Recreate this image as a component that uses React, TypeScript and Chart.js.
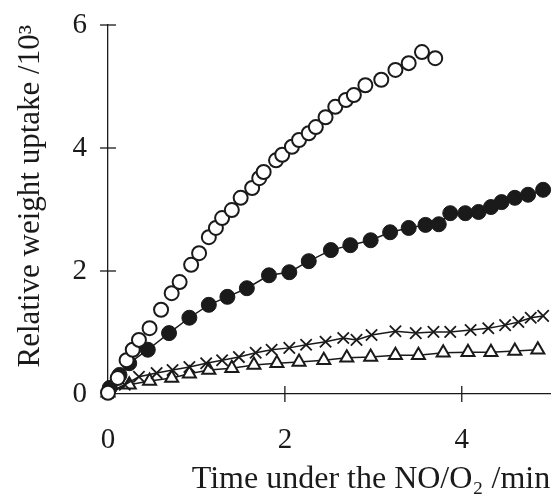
import { useEffect, useRef } from "react";
import { Chart, registerables } from "chart.js";

Chart.register(...registerables);

const xTicks = [0, 2, 4];
const yTicks = [0, 2, 4, 6];

const openX = [0.0, 0.11, 0.21, 0.28, 0.35, 0.47, 0.6, 0.72, 0.81, 0.94, 1.03, 1.14, 1.22, 1.29, 1.4, 1.5, 1.63, 1.71, 1.76, 1.9, 1.97, 2.08, 2.16, 2.27, 2.35, 2.46, 2.57, 2.69, 2.78, 2.91, 3.09, 3.25, 3.4, 3.55, 3.7];
const openY = [0.02, 0.26, 0.55, 0.72, 0.88, 1.07, 1.37, 1.64, 1.82, 2.1, 2.29, 2.55, 2.7, 2.86, 2.99, 3.19, 3.35, 3.51, 3.61, 3.8, 3.89, 4.02, 4.13, 4.24, 4.34, 4.5, 4.67, 4.78, 4.86, 5.02, 5.11, 5.27, 5.38, 5.56, 5.46];

const filledX = [0.02, 0.13, 0.24, 0.45, 0.69, 0.92, 1.14, 1.35, 1.57, 1.82, 2.05, 2.27, 2.52, 2.74, 2.97, 3.19, 3.4, 3.59, 3.74, 3.87, 4.04, 4.19, 4.33, 4.45, 4.6, 4.75, 4.92];
const filledY = [0.1, 0.31, 0.5, 0.72, 0.99, 1.24, 1.45, 1.58, 1.72, 1.93, 1.98, 2.16, 2.34, 2.42, 2.5, 2.63, 2.7, 2.75, 2.76, 2.94, 2.94, 2.96, 3.04, 3.12, 3.19, 3.24, 3.32];

const crossX = [0.0, 0.19, 0.35, 0.55, 0.73, 0.92, 1.11, 1.29, 1.48, 1.67, 1.85, 2.05, 2.24, 2.46, 2.66, 2.81, 2.98, 3.25, 3.48, 3.68, 3.87, 4.1, 4.3, 4.49, 4.64, 4.78, 4.92];
const crossY = [0.02, 0.15, 0.28, 0.34, 0.39, 0.44, 0.5, 0.55, 0.6, 0.67, 0.72, 0.75, 0.8, 0.85, 0.91, 0.88, 0.96, 1.02, 0.99, 1.01, 1.01, 1.04, 1.07, 1.12, 1.17, 1.24, 1.27];

const triX = [0.0, 0.24, 0.47, 0.72, 0.92, 1.14, 1.4, 1.65, 1.91, 2.16, 2.44, 2.7, 2.97, 3.25, 3.51, 3.79, 4.07, 4.33, 4.6, 4.86];
const triY = [0.02, 0.15, 0.21, 0.26, 0.33, 0.39, 0.42, 0.47, 0.5, 0.52, 0.55, 0.59, 0.6, 0.63, 0.63, 0.67, 0.68, 0.68, 0.7, 0.72];

const xTitle = "Time under the NO/O\u2082 /min";
const yTitle = "Relative weight uptake /10\u00B3";

const FAMILY = '"Liberation Serif", "Times New Roman", serif';
const INK = "#1a1a1a";

function pts(xs: number[], ys: number[]) {
  return xs.map((x, i) => ({ x, y: ys[i] }));
}

export default function App() {
  const ref = useRef<HTMLCanvasElement>(null);

  useEffect(() => {
    if (!ref.current) return;
    const crossTicks = {
      id: "crossTicks",
      afterDraw(chart: any) {
        const { ctx } = chart;
        const xs = chart.scales.x;
        const ys = chart.scales.y;
        const x0 = xs.getPixelForValue(0);
        const y0 = ys.getPixelForValue(0);
        ctx.save();
        ctx.strokeStyle = INK;
        ctx.lineWidth = 1.3;
        yTicks.filter((v) => v !== 0).forEach((v) => {
          const p = ys.getPixelForValue(v);
          ctx.beginPath();
          ctx.moveTo(x0 - 8, p);
          ctx.lineTo(x0 + 8, p);
          ctx.stroke();
        });
        xTicks.filter((v) => v !== 0).forEach((v) => {
          const p = xs.getPixelForValue(v);
          ctx.beginPath();
          ctx.moveTo(p, y0 - 8);
          ctx.lineTo(p, y0 + 8);
          ctx.stroke();
        });
        ctx.restore();
      },
    };

    const chart = new Chart(ref.current, {
      type: "scatter",
      data: {
        datasets: [
          {
            data: pts(openX, openY),
            pointStyle: "circle",
            pointRadius: 7,
            pointBorderWidth: 2,
            pointBackgroundColor: "#fff",
            pointBorderColor: INK,
            showLine: false,
            clip: false,
          },
          {
            data: pts(filledX, filledY),
            pointStyle: "circle",
            pointRadius: 7.5,
            pointBorderWidth: 1,
            pointBackgroundColor: INK,
            pointBorderColor: INK,
            showLine: true,
            borderColor: INK,
            borderWidth: 1.5,
            clip: false,
          },
          {
            data: pts(crossX, crossY),
            pointStyle: "crossRot",
            pointRadius: 8,
            pointBorderWidth: 1.8,
            pointBorderColor: INK,
            showLine: true,
            borderColor: INK,
            borderWidth: 1.5,
            clip: false,
          },
          {
            data: pts(triX, triY),
            pointStyle: "triangle",
            pointRadius: 7.5,
            pointBorderWidth: 2,
            pointBackgroundColor: "#fff",
            pointBorderColor: INK,
            showLine: true,
            borderColor: INK,
            borderWidth: 1.5,
            clip: false,
          },
        ],
      } as any,
      options: {
        responsive: false,
        animation: false,
        layout: { padding: { top: 25, right: 8, bottom: 0, left: 0 } },
        plugins: { legend: { display: false }, tooltip: { enabled: false } },
        scales: {
          x: {
            type: "linear",
            min: 0,
            max: 5,
            afterBuildTicks: (s: any) => {
              s.ticks = xTicks.map((v) => ({ value: v }));
            },
            afterFit: (s: any) => {
              s.height = 105;
              s.paddingLeft = 0;
              s.paddingRight = 0;
            },
            grid: { display: false, drawTicks: false },
            border: { display: true, color: INK, width: 1.3 },
            ticks: { font: { family: FAMILY, size: 29 }, color: INK, padding: 29 },
            title: {
              display: true,
              text: xTitle,
              align: "end",
              font: { family: FAMILY, size: 32 },
              color: INK,
              padding: { top: 0, bottom: 0 },
            },
          },
          y: {
            type: "linear",
            min: 0,
            max: 6,
            afterBuildTicks: (s: any) => {
              s.ticks = yTicks.map((v) => ({ value: v }));
            },
            afterFit: (s: any) => {
              s.width = 108;
              s.paddingTop = 0;
              s.paddingBottom = 0;
            },
            grid: { display: false, drawTicks: false },
            border: { display: true, color: INK, width: 1.3 },
            ticks: { font: { family: FAMILY, size: 29 }, color: INK, padding: 21 },
            title: {
              display: true,
              text: yTitle,
              align: "end",
              font: { family: FAMILY, size: 31 },
              color: INK,
              padding: { top: 12, bottom: 0 },
            },
          },
        },
      } as any,
      plugins: [crossTicks],
    });
    return () => chart.destroy();
  }, []);

  return (
    <canvas
      ref={ref}
      width={560}
      height={499}
      style={{ position: "fixed", left: 0, top: 0, width: 560, height: 499, background: "#fff" }}
    />
  );
}
